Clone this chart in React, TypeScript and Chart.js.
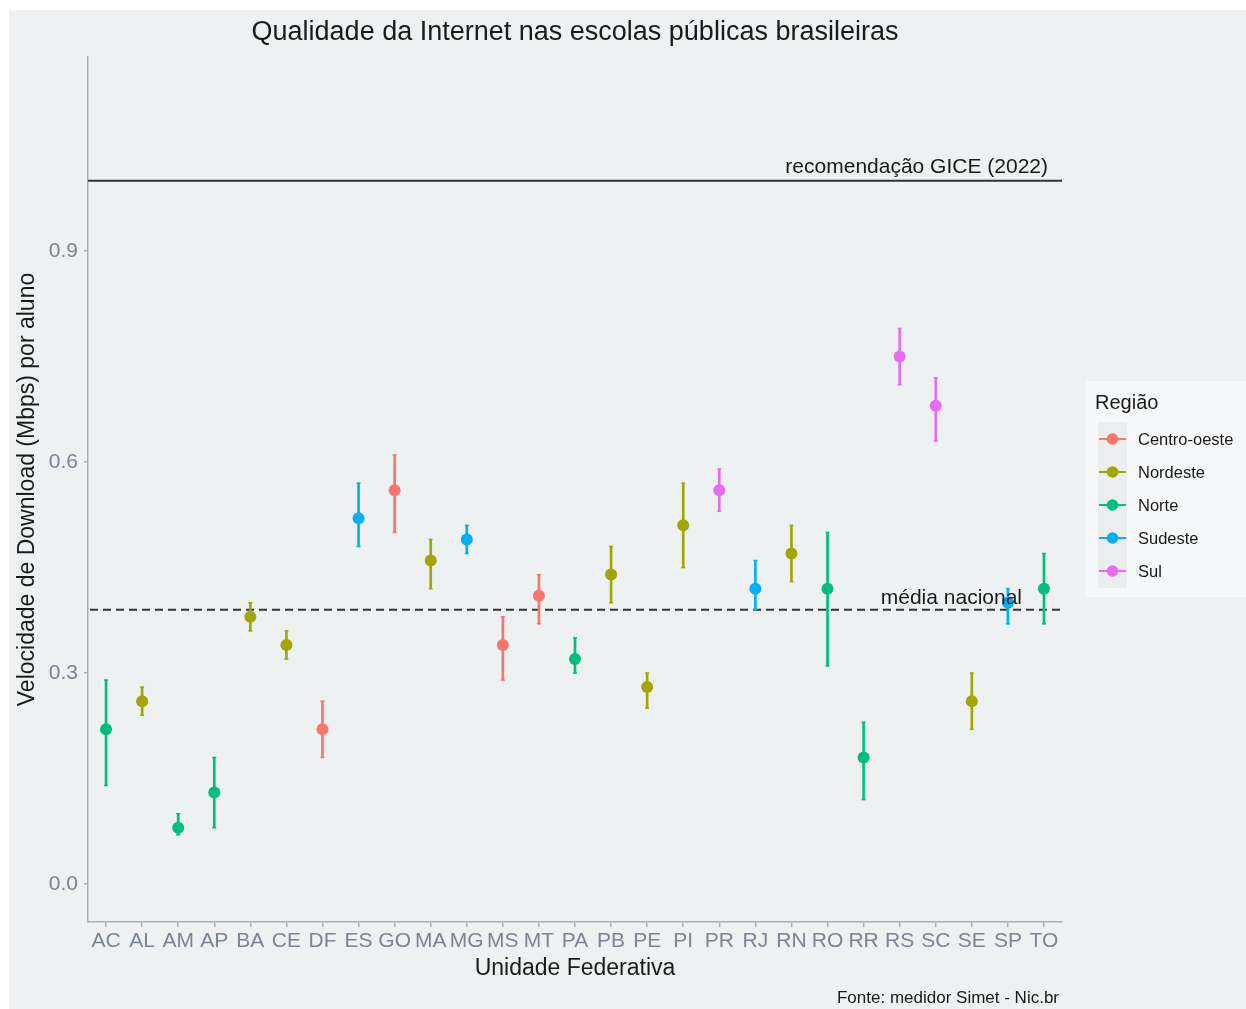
import { useEffect, useRef } from "react";
import { Chart, registerables } from "chart.js";
Chart.register(...registerables);

const states = ["AC","AL","AM","AP","BA","CE","DF","ES","GO","MA","MG","MS","MT","PA","PB","PE","PI","PR","RJ","RN","RO","RR","RS","SC","SE","SP","TO"];
const regionOf = ["Norte","Nordeste","Norte","Norte","Nordeste","Nordeste","Centro-oeste","Sudeste","Centro-oeste","Nordeste","Sudeste","Centro-oeste","Centro-oeste","Norte","Nordeste","Nordeste","Nordeste","Sul","Sudeste","Nordeste","Norte","Norte","Sul","Sul","Nordeste","Sudeste","Norte"];
const meanValues = [0.22,0.26,0.08,0.13,0.38,0.34,0.22,0.52,0.56,0.46,0.49,0.34,0.41,0.32,0.44,0.28,0.51,0.56,0.42,0.47,0.42,0.18,0.75,0.68,0.26,0.40,0.42];
const lowValues = [0.14,0.24,0.07,0.08,0.36,0.32,0.18,0.48,0.50,0.42,0.47,0.29,0.37,0.30,0.40,0.25,0.45,0.53,0.39,0.43,0.31,0.12,0.71,0.63,0.22,0.37,0.37];
const highValues = [0.29,0.28,0.10,0.18,0.40,0.36,0.26,0.57,0.61,0.49,0.51,0.38,0.44,0.35,0.48,0.30,0.57,0.59,0.46,0.51,0.50,0.23,0.79,0.72,0.30,0.42,0.47];
const regionNames = ["Centro-oeste","Nordeste","Norte","Sudeste","Sul"];
const regionColors = ["#F8766D","#A3A500","#00BF7D","#00B0F6","#E76BF3"];
const yTicks = [0, 0.3, 0.6, 0.9];
const gice = 1.0;
const nationalMean = 0.39;

const FONT = "'Liberation Sans', Arial, Helvetica, sans-serif";
const BG = "#eef1f2";
const AXIS = "#a9aeb3";
const TICKTXT = "#7a8595";

export default function App() {
  const ref = useRef<HTMLCanvasElement | null>(null);
  useEffect(() => {
    document.body.style.margin = "0";
    const canvas = ref.current!;
    const colorFor = (r: string) => regionColors[regionNames.indexOf(r)];
    const ptColors = regionOf.map(colorFor);

    const decor = {
      id: "decor",
      beforeDraw(chart: any) {
        const { ctx, width, height } = chart;
        ctx.save();
        ctx.fillStyle = "#ffffff";
        ctx.fillRect(0, 0, width, height);
        ctx.fillStyle = BG;
        ctx.fillRect(9, 10, width - 9, height - 10);
        ctx.restore();
      },
      beforeDatasetsDraw(chart: any) {
        const { ctx, chartArea } = chart;
        const y = chart.scales.y;
        ctx.save();
        const gy = y.getPixelForValue(gice);
        ctx.strokeStyle = "#333333";
        ctx.lineWidth = 2;
        ctx.beginPath();
        ctx.moveTo(chartArea.left, gy);
        ctx.lineTo(chartArea.right, gy);
        ctx.stroke();
        const my = y.getPixelForValue(nationalMean);
        ctx.lineWidth = 2.2;
        ctx.setLineDash([8, 5]);
        ctx.beginPath();
        ctx.moveTo(chartArea.left + 2, my);
        ctx.lineTo(chartArea.right - 2, my);
        ctx.stroke();
        ctx.setLineDash([]);
        ctx.restore();
      },
      afterDatasetsDraw(chart: any) {
        const { ctx } = chart;
        const x = chart.scales.x;
        const y = chart.scales.y;
        ctx.save();
        ctx.lineWidth = 1.5;
        states.forEach((s, i) => {
          const px = x.getPixelForValue(i);
          ctx.strokeStyle = ptColors[i];
          [lowValues[i], highValues[i]].forEach((v) => {
            const py = y.getPixelForValue(v);
            ctx.beginPath();
            ctx.moveTo(px - 2, py);
            ctx.lineTo(px + 2, py);
            ctx.stroke();
          });
        });
        ctx.fillStyle = "#1a1a1a";
        ctx.font = `21px ${FONT}`;
        ctx.textAlign = "right";
        ctx.textBaseline = "middle";
        ctx.fillText("recomendação GICE (2022)", 1048, y.getPixelForValue(gice) - 14);
        ctx.fillText("média nacional", 1022, y.getPixelForValue(nationalMean) - 12);
        ctx.restore();
      },
      afterDraw(chart: any) {
        const { ctx, chartArea } = chart;
        ctx.save();
        ctx.fillStyle = "#1a1a1a";
        ctx.textAlign = "center";
        ctx.textBaseline = "middle";
        ctx.font = `27px ${FONT}`;
        ctx.fillText("Qualidade da Internet nas escolas públicas brasileiras", (chartArea.left + chartArea.right) / 2, 33);
        ctx.font = `17px ${FONT}`;
        ctx.textAlign = "right";
        ctx.fillText("Fonte: medidor Simet - Nic.br", 1059, 998);
        // legend
        ctx.fillStyle = "#f7f8f9";
        ctx.fillRect(1085, 381, 161, 216);
        ctx.fillStyle = "#ebedee";
        ctx.fillRect(1098, 422, 29, 166);
        ctx.fillStyle = "#1a1a1a";
        ctx.textAlign = "left";
        ctx.font = `20px ${FONT}`;
        ctx.fillText("Região", 1095, 403);
        ctx.font = `16.5px ${FONT}`;
        regionNames.forEach((r, i) => {
          const cy = 439 + i * 33;
          ctx.strokeStyle = regionColors[i];
          ctx.lineWidth = 2;
          ctx.beginPath();
          ctx.moveTo(1099, cy);
          ctx.lineTo(1126, cy);
          ctx.stroke();
          ctx.fillStyle = regionColors[i];
          ctx.beginPath();
          ctx.arc(1112.5, cy, 5.8, 0, Math.PI * 2);
          ctx.fill();
          ctx.fillStyle = "#1a1a1a";
          ctx.fillText(r, 1138, cy + 1);
        });
        ctx.restore();
      },
    };

    const chart = new Chart(canvas, {
      data: {
        labels: states,
        datasets: [
          {
            type: "line",
            label: "mean",
            data: meanValues,
            showLine: false,
            pointRadius: 6,
            pointHoverRadius: 6,
            pointBackgroundColor: ptColors,
            pointBorderColor: ptColors,
            pointBorderWidth: 0,
            order: 1,
          } as any,
          {
            type: "bar",
            label: "interval",
            data: states.map((_, i) => [lowValues[i], highValues[i]]),
            backgroundColor: ptColors,
            barThickness: 2,
            grouped: false,
            order: 2,
          } as any,
        ],
      },
      options: {
        responsive: false,
        animation: false,
        events: [],
        layout: { padding: { top: 57, right: 184, bottom: 0, left: 0 } },
        plugins: { legend: { display: false }, tooltip: { enabled: false }, title: { display: false } },
        scales: {
          x: {
            type: "category",
            offset: true,
            grid: { display: true, drawOnChartArea: false, drawTicks: true, tickLength: 5, color: AXIS, lineWidth: 1.5, offset: false },
            border: { display: true, color: AXIS, width: 1.5 },
            ticks: { color: TICKTXT, font: { family: FONT, size: 21 }, padding: 2, autoSkip: false, maxRotation: 0 },
            title: { display: true, text: "Unidade Federativa", color: "#1a1a1a", font: { family: FONT, size: 23 }, padding: { top: 0, bottom: 27 } },
            afterFit: (s: any) => { s.height = 87; },
          },
          y: {
            type: "linear",
            min: -0.054,
            max: 1.176,
            afterBuildTicks: (s: any) => { s.ticks = yTicks.map((v) => ({ value: v })); },
            grid: { display: true, drawOnChartArea: false, drawTicks: true, tickLength: 4, color: AXIS, lineWidth: 1.5 },
            border: { display: true, color: AXIS, width: 1.5 },
            ticks: { color: TICKTXT, font: { family: FONT, size: 21 }, padding: 6, callback: (v: any) => Number(v).toFixed(1) },
            title: { display: true, text: "Velocidade de Download (Mbps) por aluno", color: "#1a1a1a", font: { family: FONT, size: 23 }, padding: { top: 14, bottom: 0 } },
            afterFit: (s: any) => { s.width = 88; },
          },
        },
      },
      plugins: [decor],
    });
    return () => chart.destroy();
  }, []);
  return <canvas ref={ref} width={1246} height={1009} style={{ display: "block" }} />;
}
